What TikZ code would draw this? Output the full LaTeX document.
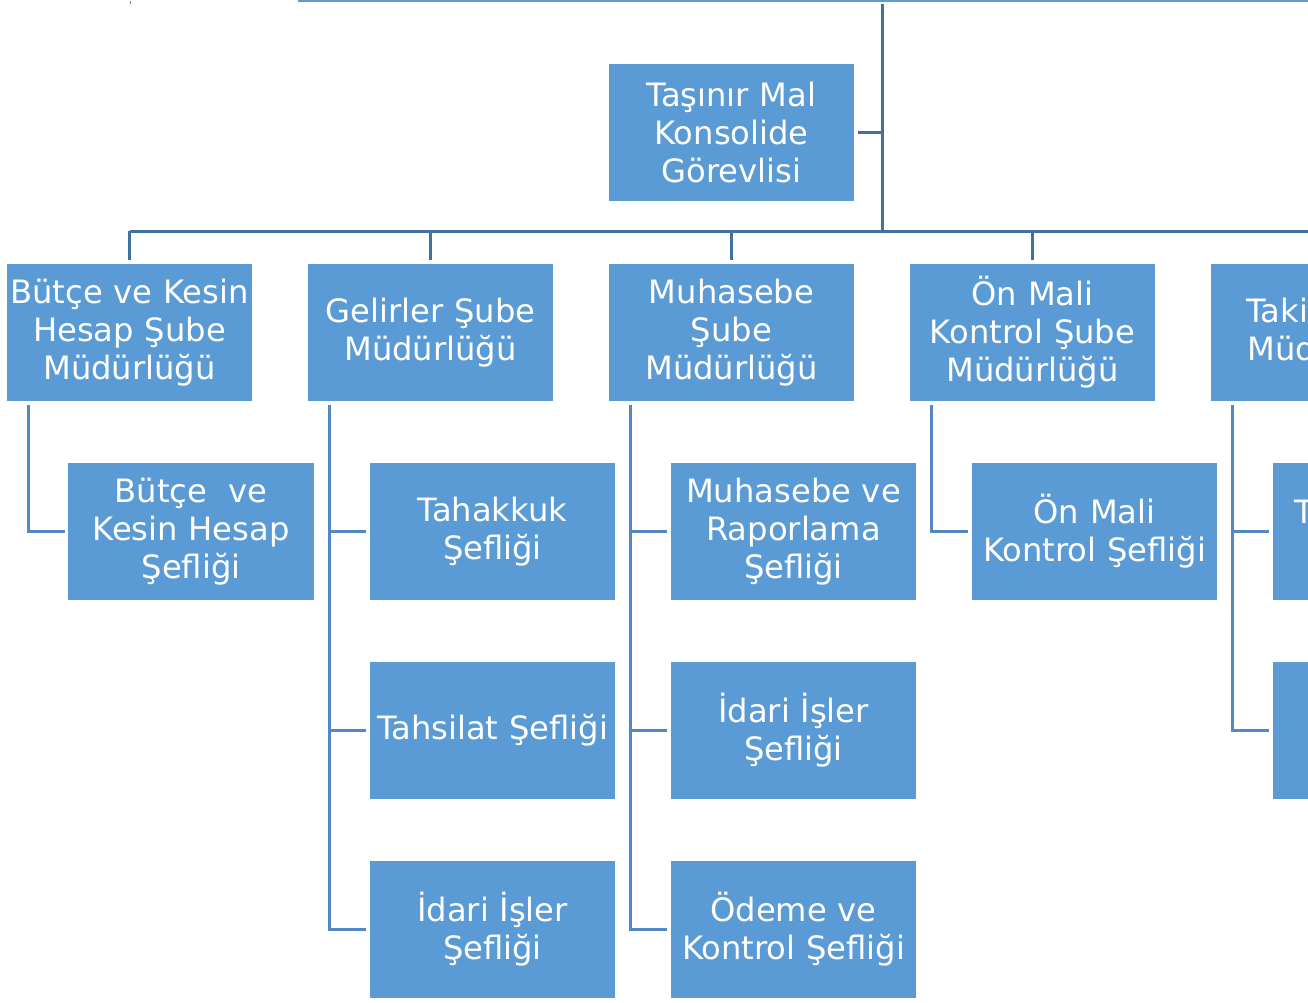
\documentclass[tikz,border=0pt]{standalone}
\usepackage{fontspec}
\setmainfont{DejaVu Sans}
\definecolor{boxblue}{HTML}{5B9BD5}
\definecolor{linedark}{HTML}{41719C}
\definecolor{linelight}{HTML}{5289C4}

\begin{document}
\begin{tikzpicture}[x=0.01cm, y=-0.01cm,
    every node/.style={font=\fontsize{9.15}{10.8}\selectfont, text=white},
    unit/.style={rectangle, fill=boxblue, minimum width=2.45cm, minimum height=1.37cm,
      text width=2.43cm, inner sep=0.01cm, align=center},
    bus/.style={draw=linedark, line width=0.03cm},
    sub/.style={draw=linelight, line width=0.03cm, shorten >=0.03cm}]
  \useasboundingbox (0,0) rectangle (1308,1002);
  \clip (0,0) rectangle (1308,1002);
  % edge of the unit above
  \fill[boxblue] (298,-1) rectangle (1310,1.5);
  \draw[linelight, line width=0.01cm] (130,1) -- (130,4);

  \node[unit] (tmk) at (731.5,132.5) {Taşınır Mal\\Konsolide\\Görevlisi};

  \node[unit] (bks) at (129.5,332.5) {Bütçe ve Kesin\\Hesap Şube\\Müdürlüğü};
  \node[unit] (gel) at (430.5,332.5) {Gelirler Şube\\Müdürlüğü};
  \node[unit] (muh) at (731.5,332.5) {Muhasebe\\Şube\\Müdürlüğü};
  \node[unit] (onm) at (1032.5,332.5) {Ön Mali\\Kontrol Şube\\Müdürlüğü};
  \node[unit] (tak) at (1333.5,332.5) {Takip Şube\\Müdürlüğü};

  \node[unit] (bks1) at (191,531.5) {Bütçe\ \ ve\\Kesin Hesap\\Şefliği};
  \node[unit] (gel1) at (492.5,531.5) {Tahakkuk\\Şefliği};
  \node[unit] (gel2) at (492.5,730.5) {Tahsilat Şefliği};
  \node[unit] (gel3) at (492.5,929.5) {İdari İşler\\Şefliği};
  \node[unit] (muh1) at (793.5,531.5) {Muhasebe ve\\Raporlama\\Şefliği};
  \node[unit] (muh2) at (793.5,730.5) {İdari İşler\\Şefliği};
  \node[unit] (muh3) at (793.5,929.5) {Ödeme ve\\Kontrol Şefliği};
  \node[unit] (onm1) at (1094.5,531.5) {Ön Mali\\Kontrol Şefliği};
  \node[unit] (tak1) at (1395.5,531.5) {Takip ve İcra\\Şefliği};
  \node[unit] (tak2) at (1395.5,730.5) {};

  % main bus
  \coordinate (top) at (882,4);
  \coordinate (hub) at (882,231);
  \coordinate (busend) at (1310,231);
  \draw[bus] (top) -- (hub);
  \draw[bus, shorten <=0.03cm] (tmk.east) -- (tmk.east -| hub);
  \draw[bus] (bks.north |- hub) -- (busend);
  \foreach \n in {bks,gel,muh,onm,tak}
    \draw[bus] (\n.north |- hub) -- ([yshift=0.03cm]\n.north);

  % units to their sections
  \foreach \n/\last in {bks/bks1, gel/gel3, muh/muh3, onm/onm1, tak/tak2}{
    \coordinate (\n x) at ([xshift=0.22cm]\n.south west);
    \draw[sub, shorten <=0.03cm] (\n x) |- (\last.west);
  }
  \foreach \n/\c in {gel/gel1, gel/gel2, muh/muh1, muh/muh2, tak/tak1}
    \draw[sub] (\n x |- \c.west) -- (\c.west);
\end{tikzpicture}
\end{document}
